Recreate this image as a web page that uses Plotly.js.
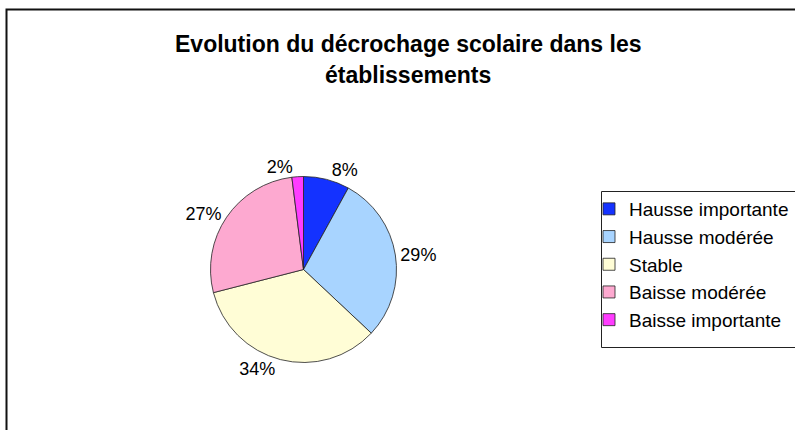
<!DOCTYPE html>
<html>
<head>
<meta charset="utf-8">
<script src="https://cdn.plot.ly/plotly-3.0.1.min.js"></script>
<style>html,body{margin:0;padding:0;background:#fff;}#chart{width:795px;height:430px;}</style>
</head>
<body>
<div id="chart"></div>
<script>
const categories = ["Hausse importante", "Hausse modérée", "Stable", "Baisse modérée", "Baisse importante"];
const values = [8, 29, 34, 27, 2];
const colors = ["#1432FF", "#A8D4FF", "#FFFDD6", "#FDA9D0", "#FF3CFF"];
const titleLines = ["Evolution du décrochage scolaire dans les", "établissements"];

const W = 795, H = 430;
const cx = 303.5, cy = 269.5, r = 93;
const FONT = "Liberation Sans, Arial, sans-serif";

const trace = {
  type: "pie",
  labels: categories,
  values: values,
  sort: false,
  direction: "clockwise",
  rotation: 0,
  marker: {colors: colors, line: {color: "#222", width: 0.8}},
  textinfo: "percent",
  texttemplate: "%{percent:.0%}",
  textposition: "outside",
  outsidetextfont: {family: FONT, size: 18, color: "#000"},
  hoverinfo: "label+percent",
  domain: {x: [(cx - r) / W, (cx + r) / W], y: [(H - cy - r) / H, (H - cy + r) / H]}
};

const layout = {
  width: W, height: H,
  margin: {l: 0, r: 0, t: 0, b: 0, autoexpand: false},
  paper_bgcolor: "#fff",
  font: {family: FONT, color: "#000"},
  showlegend: true,
  legend: {
    x: 589 / W, y: (H - 190) / H, xanchor: "left", yanchor: "top",
    bgcolor: "rgba(0,0,0,0)", borderwidth: 0,
    font: {family: FONT, size: 19, color: "#000"},
    traceorder: "normal"
  },
  annotations: titleLines.map((t, i) => ({
    text: "<b>" + t + "</b>", showarrow: false,
    xref: "paper", yref: "paper", x: 408 / W, y: (H - (44 + i * 31)) / H,
    xanchor: "center", yanchor: "middle",
    font: {family: FONT, size: 23, color: "#000"}
  })),
  shapes: [{
    type: "rect", xref: "paper", yref: "paper",
    x0: 6.5 / W, x1: 1.05, y0: -0.05, y1: (H - 9.5) / H,
    line: {color: "#111", width: 2}, fillcolor: "rgba(0,0,0,0)", layer: "below"
  }, {
    type: "rect", xref: "paper", yref: "paper",
    x0: 601.5 / W, x1: 1.05, y0: (H - 347.5) / H, y1: (H - 191.5) / H,
    line: {color: "#222", width: 1}, fillcolor: "rgba(0,0,0,0)", layer: "below"
  }]
};

Plotly.newPlot("chart", [trace], layout, {displayModeBar: false, staticPlot: true});
</script>
</body>
</html>
